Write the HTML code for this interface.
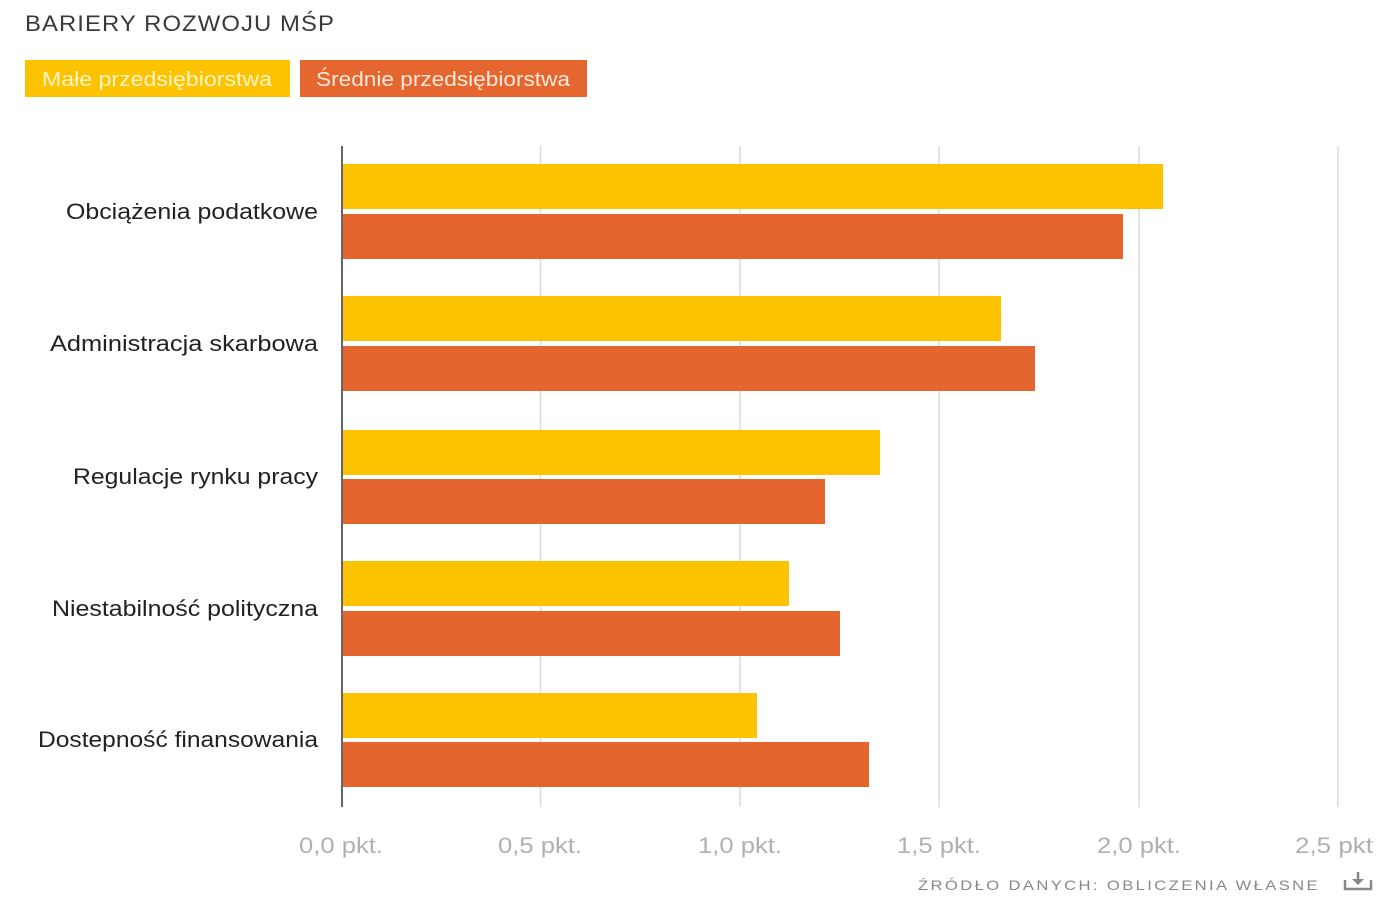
<!DOCTYPE html>
<html><head><meta charset="utf-8"><style>
html,body{margin:0;padding:0;background:#fff;}
svg{display:block;}
text{font-family:"Liberation Sans","DejaVu Sans",sans-serif;}
</style></head><body>
<svg width="1400" height="900" viewBox="0 0 1400 900" xmlns="http://www.w3.org/2000/svg">
<rect width="1400" height="900" fill="#fff"/>
<text x="25" y="31" font-size="22" fill="#3a3a3a" letter-spacing="1" textLength="310" lengthAdjust="spacingAndGlyphs">BARIERY ROZWOJU MŚP</text>
<rect x="25" y="60" width="265" height="37" fill="#fdc300"/>
<text x="157" y="86" font-size="20" fill="#fff4c8" text-anchor="middle" textLength="230" lengthAdjust="spacingAndGlyphs">Małe przedsiębiorstwa</text>
<rect x="300" y="60" width="287" height="37" fill="#e6662f"/>
<text x="443" y="86" font-size="20" fill="#ffe9dc" text-anchor="middle" textLength="254" lengthAdjust="spacingAndGlyphs">Średnie przedsiębiorstwa</text>
<g stroke="#dcdcdc" stroke-width="1.5">
<line x1="540.5" y1="146" x2="540.5" y2="807"/>
<line x1="740" y1="146" x2="740" y2="807"/>
<line x1="939" y1="146" x2="939" y2="807"/>
<line x1="1139" y1="146" x2="1139" y2="807"/>
<line x1="1338" y1="146" x2="1338" y2="807"/>
</g>
<g fill="#fdc300">
<rect x="343" y="164" width="820" height="45"/>
<rect x="343" y="296" width="658" height="45"/>
<rect x="343" y="430" width="537" height="45"/>
<rect x="343" y="561" width="446" height="45"/>
<rect x="343" y="693" width="414" height="45"/>
</g>
<g fill="#e5652f">
<rect x="343" y="214" width="780" height="45"/>
<rect x="343" y="346" width="692" height="45"/>
<rect x="343" y="479" width="482" height="45"/>
<rect x="343" y="611" width="497" height="45"/>
<rect x="343" y="742" width="526" height="45"/>
</g>
<line x1="342" y1="146" x2="342" y2="807" stroke="#333" stroke-width="1.5"/>
<g font-size="22" fill="#222" text-anchor="end">
<text x="318" y="219" textLength="252" lengthAdjust="spacingAndGlyphs">Obciążenia podatkowe</text>
<text x="318" y="351" textLength="268" lengthAdjust="spacingAndGlyphs">Administracja skarbowa</text>
<text x="318" y="484" textLength="245" lengthAdjust="spacingAndGlyphs">Regulacje rynku pracy</text>
<text x="318" y="616" textLength="266" lengthAdjust="spacingAndGlyphs">Niestabilność polityczna</text>
<text x="318" y="747" textLength="280" lengthAdjust="spacingAndGlyphs">Dostepność finansowania</text>
</g>
<g font-size="22" fill="#b0b0b0" text-anchor="middle">
<text x="341" y="853" textLength="84" lengthAdjust="spacingAndGlyphs">0,0 pkt.</text>
<text x="540" y="853" textLength="84" lengthAdjust="spacingAndGlyphs">0,5 pkt.</text>
<text x="740" y="853" textLength="84" lengthAdjust="spacingAndGlyphs">1,0 pkt.</text>
<text x="939" y="853" textLength="84" lengthAdjust="spacingAndGlyphs">1,5 pkt.</text>
<text x="1139" y="853" textLength="84" lengthAdjust="spacingAndGlyphs">2,0 pkt.</text>
<text x="1334" y="853" textLength="78" lengthAdjust="spacingAndGlyphs">2,5 pkt</text>
</g>
<text x="918" y="890" font-size="14" fill="#888" letter-spacing="2" textLength="402" lengthAdjust="spacingAndGlyphs">ŹRÓDŁO DANYCH: OBLICZENIA WŁASNE</text>
<g stroke="#888" stroke-width="2.5" fill="none">
<polyline points="1345,880 1345,889 1371,889 1371,880"/>
<line x1="1358" y1="872" x2="1358" y2="884"/>
</g>
<polygon points="1352,879 1364,879 1358,885" fill="#888"/>
</svg>
</body></html>
